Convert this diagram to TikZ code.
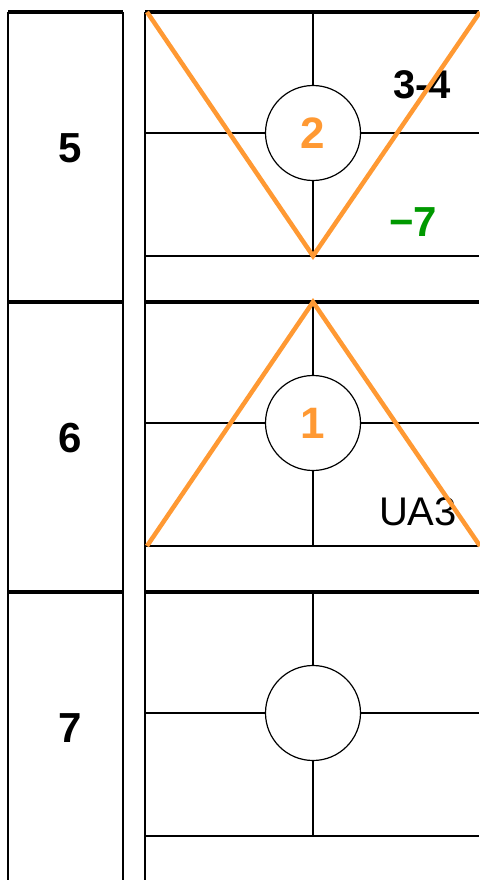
\documentclass[tikz,border=0pt]{standalone}
\usepackage{fontspec}
\setmainfont{Liberation Sans}
\definecolor{markOrange}{HTML}{FF9933}
\definecolor{markGreen}{HTML}{009900}

\begin{document}
\begin{tikzpicture}[x=1pt, y=-1pt,
  gridline/.style={line width=1.6pt},
  heavyline/.style={line width=3.2pt},
  vmark/.style={line width=4.5pt, color=markOrange},
  hub/.style={circle, draw, line width=1.2pt, minimum size=95pt, inner sep=0pt,
    font=\fontsize{44}{44}\selectfont\bfseries, text=markOrange},
  rowlab/.style={font=\fontsize{42}{42}\selectfont\bfseries},
  tag/.style={font=\fontsize{40}{40}\selectfont}
]
\useasboundingbox (0,0) rectangle (479,880);
% column edges
\draw[gridline] (8,12) -- (8,880);
\draw[gridline] (123,12) -- (123,880);
\draw[gridline] (145,12) -- (145,880);
% rows with hub circle and cross lines
\foreach \lab/\top/\num in {5/12/2, 6/302/1, 7/592/{}}{
  \draw[heavyline] (8,\top) -- (123,\top);
  \draw[heavyline] (145,\top) -- (479,\top);
  \node[rowlab] (row\lab) at (70,\top+136) {\lab};
  \node[hub] (hub\lab) at (313,\top+121) {\num};
  \coordinate (top\lab) at (313,\top);
  \coordinate (base\lab) at (313,\top+244);
  \draw[gridline] (145,\top+121) -- (hub\lab.west);
  \draw[gridline] (hub\lab.east) -- (479,\top+121);
  \draw[gridline] (top\lab) -- (hub\lab.north);
  \draw[gridline] (hub\lab.south) -- (base\lab);
  \draw[gridline] (145,\top+244) -- (479,\top+244);
}
% labels
\node[tag, font=\fontsize{40}{40}\selectfont\bfseries] (span) at (422,85) {3-4};
\node[tag, font=\fontsize{42}{42}\selectfont\bfseries, text=markGreen] (shift) at (413,222) {−7};
\node[tag] (unit) at (418,512) {UA3};
% orange marks
\draw[vmark] (147,12) -- (base5) -- (480,12);
\draw[vmark] (147,546) -- (top6) -- (480,546);
\end{tikzpicture}
\end{document}
